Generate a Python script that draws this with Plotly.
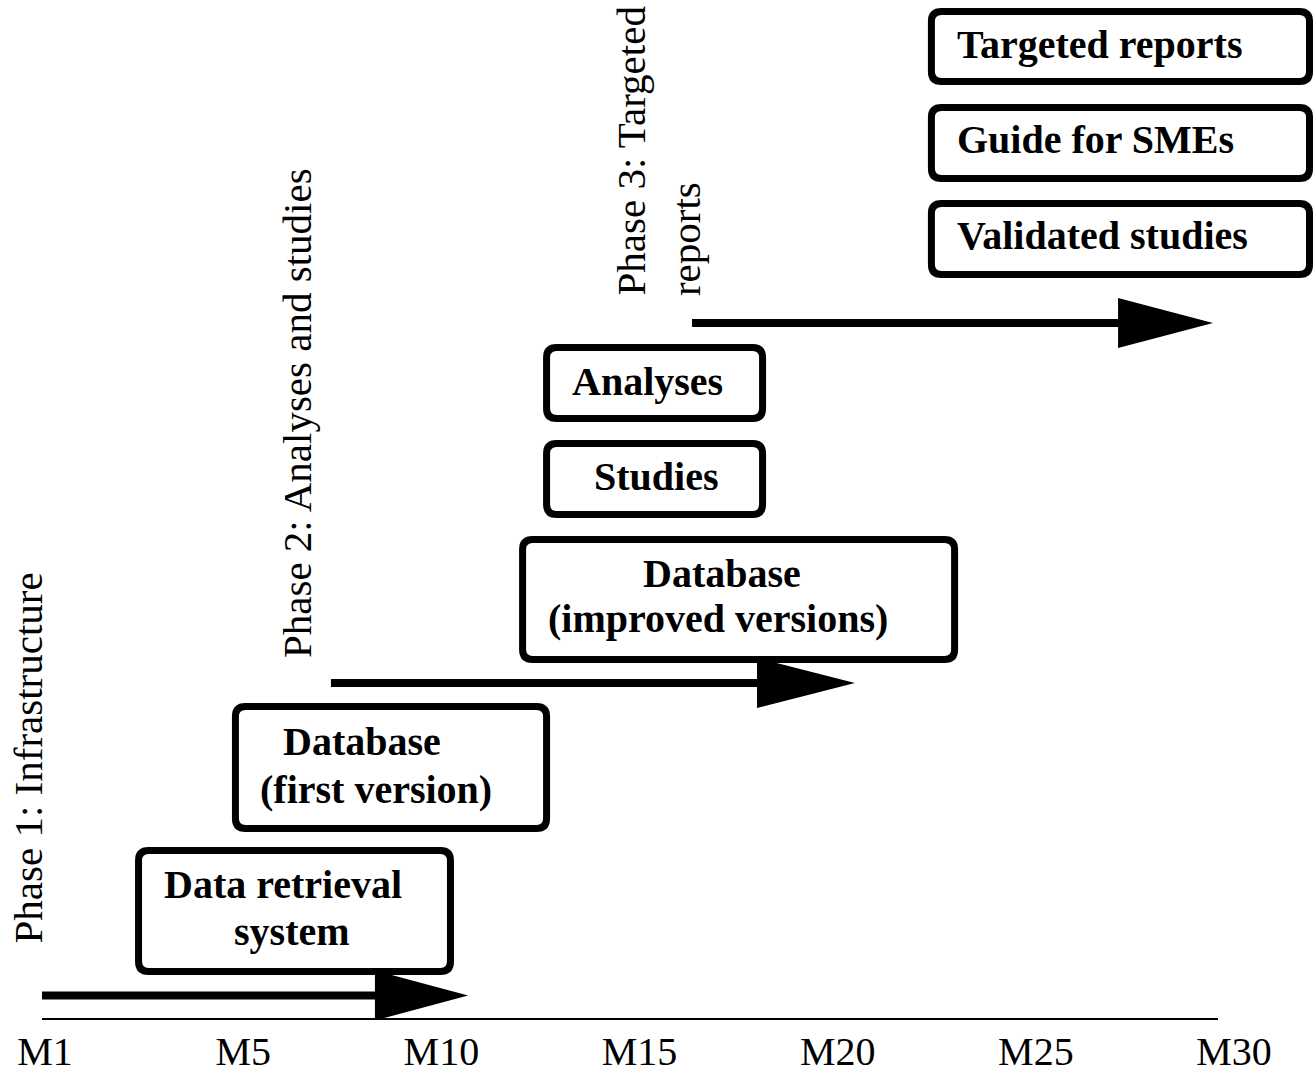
import plotly.graph_objects as go

# ---------------- data ----------------
TICK_LABELS = ["M1", "M5", "M10", "M15", "M20", "M25", "M30"]
TICK_POS = [0, 1, 2, 3, 4, 5, 6]          # timeline slots (one per label)

# deliverable boxes: label lines, start / end on timeline, bottom / top level
BOX_LINES = [
    ["Data retrieval", "system"],
    ["Database", "(first version)"],
    ["Database", "(improved versions)"],
    ["Studies"],
    ["Analyses"],
    ["Validated studies"],
    ["Guide for SMEs"],
    ["Targeted reports"],
]
BOX_START = [0.472, 0.961, 2.410, 2.531, 2.531, 4.473, 4.473, 4.473]
BOX_END = [2.046, 2.531, 4.590, 3.621, 3.621, 6.381, 6.381, 6.381]
BOX_BOTTOM = [48.5, 191.5, 360.5, 505.5, 601.5, 745.5, 841.5, 938.5]
BOX_TOP = [169.5, 313.5, 480.5, 576.5, 672.5, 816.5, 912.5, 1008.5]
# text placement per line (x centre on timeline / y centre level)
LINE_X = [[1.201, 1.246], [1.600, 1.670], [3.416, 3.396], [3.088], [3.038],
          [4.592], [4.592], [4.592]]
LINE_Y = [[136, 89], [279, 231], [447, 402], [544], [639], [785], [881], [976]]
LEFT_ALIGNED = [False, False, False, False, False, True, True, True]

# phase arrows: start, head base, tip (timeline), level
ARROW_START = [-0.015, 1.443, 3.265]
ARROW_HEAD = [1.665, 3.593, 5.415]
ARROW_TIP = [2.135, 4.087, 5.894]
ARROW_LEVEL = [24.5, 337, 697]

PHASE_TEXT = ["Phase 1: Infrastructure", "Phase 2: Analyses and studies",
              "Phase 3: Targeted", "reports"]
PHASE_X = [-0.086, 1.272, 2.952, 3.235]
PHASE_BASE = [75, 360, 722, 722]

AXIS_START, AXIS_END = -0.015, 5.919

# ---------------- figure ----------------
W, H = 1315, 1074
PX_UNIT = 198.17       # pixels per timeline slot
X_FIRST = 45           # pixel of first slot
PLOT_H = 1020

SERIF = "Liberation Serif, Times New Roman, serif"
fig = go.Figure()
fig.add_trace(go.Scatter(x=[0], y=[0], mode="markers",
                         marker=dict(opacity=0), hoverinfo="skip", showlegend=False))

shapes = []
annotations = []

rx = 10 / PX_UNIT
ry = 10


def rounded(x0, x1, y0, y1):
    return (f"M {x0 + rx},{y0} L {x1 - rx},{y0} Q {x1},{y0} {x1},{y0 + ry} "
            f"L {x1},{y1 - ry} Q {x1},{y1} {x1 - rx},{y1} "
            f"L {x0 + rx},{y1} Q {x0},{y1} {x0},{y1 - ry} "
            f"L {x0},{y0 + ry} Q {x0},{y0} {x0 + rx},{y0} Z")


for i, lines in enumerate(BOX_LINES):
    shapes.append(dict(type="path", xref="x", yref="y",
                       path=rounded(BOX_START[i], BOX_END[i], BOX_BOTTOM[i], BOX_TOP[i]),
                       line=dict(color="black", width=7), fillcolor="white"))
    for j, t in enumerate(lines):
        annotations.append(dict(
            x=LINE_X[i][j], y=LINE_Y[i][j], xref="x", yref="y", text=t,
            showarrow=False, xanchor="left" if LEFT_ALIGNED[i] else "center",
            yanchor="middle",
            font=dict(family=SERIF, size=40, color="black", weight="bold")))

for i in range(len(ARROW_START)):
    shapes.append(dict(type="line", xref="x", yref="y",
                       x0=ARROW_START[i], x1=ARROW_HEAD[i] + 0.02,
                       y0=ARROW_LEVEL[i], y1=ARROW_LEVEL[i],
                       line=dict(color="black", width=8)))
    hh = 25
    shapes.append(dict(type="path", xref="x", yref="y",
                       path=(f"M {ARROW_HEAD[i]},{ARROW_LEVEL[i] - hh} "
                             f"L {ARROW_TIP[i]},{ARROW_LEVEL[i]} "
                             f"L {ARROW_HEAD[i]},{ARROW_LEVEL[i] + hh} Z"),
                       line=dict(width=0), fillcolor="black"))

shapes.append(dict(type="line", xref="x", yref="y", x0=AXIS_START, x1=AXIS_END,
                   y0=0.5, y1=0.5, line=dict(color="black", width=3)))

for i, t in enumerate(PHASE_TEXT):
    annotations.append(dict(
        x=PHASE_X[i], y=PHASE_BASE[i], xref="x", yref="y", text=t,
        showarrow=False, textangle=-90, xanchor="center", yanchor="bottom",
        font=dict(family=SERIF, size=41, color="black")))

fig.update_layout(
    width=W, height=H,
    margin=dict(l=0, r=0, t=0, b=H - PLOT_H, pad=0),
    paper_bgcolor="white", plot_bgcolor="white",
    shapes=shapes, annotations=annotations, showlegend=False,
    xaxis=dict(range=[-X_FIRST / PX_UNIT, (W - X_FIRST) / PX_UNIT],
               tickvals=TICK_POS, ticktext=TICK_LABELS, showgrid=False,
               zeroline=False, showline=False, ticks="",
               ticklabelstandoff=4,
               tickfont=dict(family=SERIF, size=40, color="black"),
               fixedrange=True),
    yaxis=dict(range=[0, PLOT_H], visible=False, showgrid=False,
               zeroline=False, fixedrange=True),
)

fig.write_html("out.html", config={"displayModeBar": False},
               post_script="document.body.style.margin='0px';"
                           "document.body.style.overflow='hidden';")
